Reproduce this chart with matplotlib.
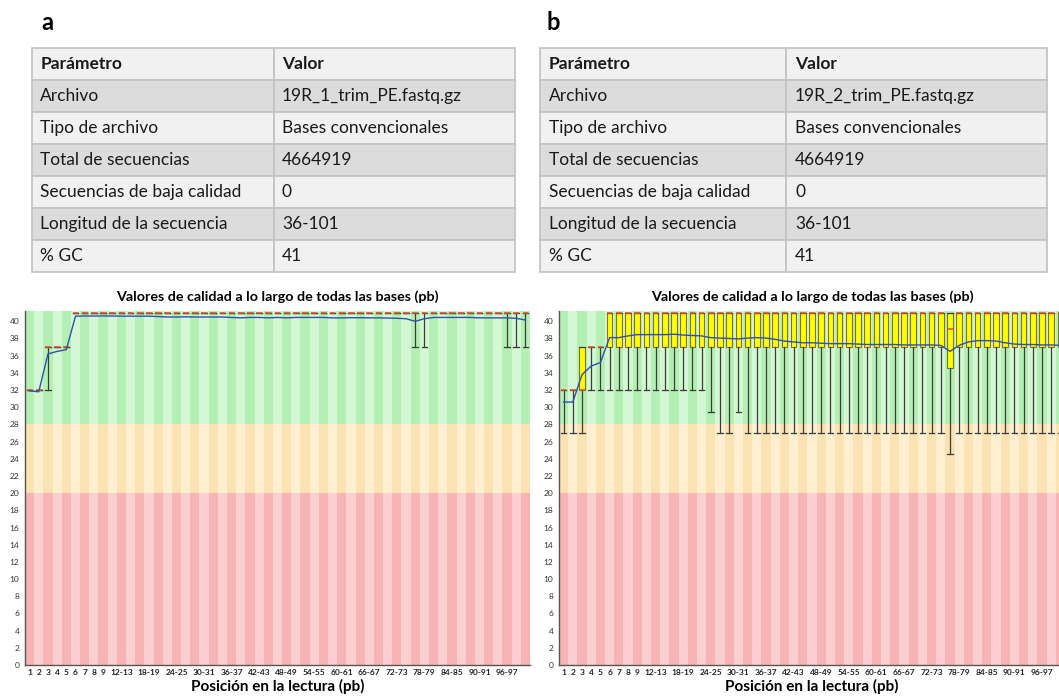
import numpy as np
import matplotlib
matplotlib.use("Agg")
import matplotlib.pyplot as plt

plt.rcParams['font.family'] = ['Lato', 'DejaVu Sans']

# ---- table data ----
table_header = ['Parámetro', 'Valor']
table_params = ['Archivo', 'Tipo de archivo', 'Total de secuencias',
                'Secuencias de baja calidad', 'Longitud de la secuencia', '% GC']
values_a = ['19R_1_trim_PE.fastq.gz', 'Bases convencionales', '4664919', '0', '36-101', '41']
values_b = ['19R_2_trim_PE.fastq.gz', 'Bases convencionales', '4664919', '0', '36-101', '41']

# ---- per-base quality bins ----
bin_labels = [str(i) for i in range(1, 10)] + [f'{s}-{s + 1}' for s in range(10, 101, 2)]
shown_ticks = ['1', '2', '3', '4', '5', '6', '7', '8', '9', '12-13', '18-19', '24-25',
               '30-31', '36-37', '42-43', '48-49', '54-55', '60-61', '66-67', '72-73',
               '78-79', '84-85', '90-91', '96-97']

# panel a (read 1)
med_a = [32, 32, 37, 37, 37, 41, 41, 41, 41, 41, 41, 41, 41, 41, 41, 41, 41, 41, 41,
         41, 41, 41, 41, 41, 41, 41, 41, 41, 41, 41, 41, 41, 41, 41, 41, 41, 41, 41,
         41, 41, 41, 41, 41, 41, 41, 41, 41, 41, 41, 41, 41, 41, 41, 41, 41]
q1_a = med_a
q3_a = med_a
low_a = [32, 32, 32, 37, 37, 41, 41, 41, 41, 41, 41, 41, 41, 41, 41, 41, 41, 41, 41,
         41, 41, 41, 41, 41, 41, 41, 41, 41, 41, 41, 41, 41, 41, 41, 41, 41, 41, 41,
         41, 41, 41, 41, 37, 37, 41, 41, 41, 41, 41, 41, 41, 41, 37, 37, 37]
high_a = med_a
mean_a = [31.9, 31.8, 36.2, 36.5, 36.7, 40.6, 40.62, 40.62, 40.62, 40.62, 40.6, 40.6,
          40.6, 40.6, 40.55, 40.5, 40.5, 40.52, 40.5, 40.5, 40.5, 40.5, 40.45, 40.4,
          40.45, 40.45, 40.4, 40.45, 40.4, 40.45, 40.45, 40.45, 40.45, 40.4, 40.4,
          40.42, 40.42, 40.4, 40.4, 40.38, 40.35, 40.3, 40.0, 40.3, 40.45, 40.45,
          40.45, 40.45, 40.45, 40.4, 40.4, 40.4, 40.4, 40.35, 40.15]

# panel b (read 2)
med_b = [32, 32, 32, 37, 37, 41, 41, 41, 41, 41, 41, 41, 41, 41, 41, 41, 41, 41, 41,
         41, 41, 41, 41, 41, 41, 41, 41, 41, 41, 41, 41, 41, 41, 41, 41, 41, 41, 41,
         41, 41, 41, 41, 39.1, 41, 41, 41, 41, 41, 41, 41, 41, 41, 41, 41, 41]
q1_b = [32, 32, 32, 37, 37, 37, 37, 37, 37, 37, 37, 37, 37, 37, 37, 37, 37, 37, 37,
        37, 37, 37, 37, 37, 37, 37, 37, 37, 37, 37, 37, 37, 37, 37, 37, 37, 37, 37,
        37, 37, 37, 37, 34.6, 37, 37, 37, 37, 37, 37, 37, 37, 37, 37, 37, 37]
q3_b = [32, 32, 37, 37, 37, 41, 41, 41, 41, 41, 41, 41, 41, 41, 41, 41, 41, 41, 41,
        41, 41, 41, 41, 41, 41, 41, 41, 41, 41, 41, 41, 41, 41, 41, 41, 41, 41, 41,
        41, 41, 41, 41, 41, 41, 41, 41, 41, 41, 41, 41, 41, 41, 41, 41, 41]
low_b = [27, 27, 27, 32, 32, 32, 32, 32, 32, 32, 32, 32, 32, 32, 32, 32, 29.5, 27, 27,
         29.5, 27, 27, 27, 27, 27, 27, 27, 27, 27, 27, 27, 27, 27, 27, 27, 27, 27, 27,
         27, 27, 27, 27, 24.6, 27, 27, 27, 27, 27, 27, 27, 27, 27, 27, 27, 27]
high_b = q3_b
mean_b = [30.6, 30.6, 33.8, 34.8, 35.2, 38.1, 38.1, 38.3, 38.45, 38.45, 38.45, 38.45,
          38.5, 38.4, 38.35, 38.3, 38.1, 38.05, 38.0, 37.95, 38.05, 38.1, 38.05, 37.9,
          37.7, 37.6, 37.5, 37.5, 37.45, 37.4, 37.4, 37.4, 37.35, 37.3, 37.3, 37.3,
          37.3, 37.25, 37.25, 37.25, 37.25, 37.2, 36.5, 37.2, 37.6, 37.75, 37.75, 37.7,
          37.5, 37.35, 37.3, 37.3, 37.25, 37.25, 37.2]

fig = plt.figure(figsize=(10.59, 6.96), dpi=100)
W, H = 1059.0, 696.0


def draw_table(rect, values, split):
    ax = fig.add_axes(rect)
    ax.axis('off')
    rows = [table_header] + [[p, v] for p, v in zip(table_params, values)]
    colours = []
    for i in range(len(rows)):
        c = '#dcdcdc' if i % 2 == 1 else '#f1f1f1'
        colours.append([c, c])
    tab = ax.table(cellText=rows, cellColours=colours, colWidths=[split, 1 - split],
                   cellLoc='left', bbox=[0, 0, 1, 1])
    tab.auto_set_font_size(False)
    tab.set_fontsize(12.5)
    for (r, c), cell in tab.get_celld().items():
        cell.set_edgecolor('#c2c2c2')
        cell.set_linewidth(1.2)
        cell.PAD = 0.035
        cell.get_text().set_color('#1a1a1a')
        if r == 0:
            cell.get_text().set_fontweight('bold')


def draw_quality(rect, med, q1, q3, low, high, mean):
    ax = fig.add_axes(rect)
    n = len(bin_labels)
    pos = np.arange(n)
    ymax = 41.2
    # striped background bands (good / reasonable / poor)
    bands = [(28, ymax, '#b4f0b4', '#d4f8d4'),
             (20, 28, '#fae2b2', '#fdefcf'),
             (0, 20, '#f8b4b4', '#fbcfcf')]
    for lo, hi, dark, light in bands:
        cols = [dark if i % 2 == 0 else light for i in pos]
        ax.bar(pos, hi - lo, bottom=lo, width=1.0, color=cols, linewidth=0, zorder=0)
    stats = []
    for i in pos:
        stats.append(dict(med=med[i], q1=q1[i], q3=q3[i], whislo=low[i], whishi=high[i]))
    ax.bxp(stats, positions=pos, widths=0.62, patch_artist=True, showfliers=False,
           capwidths=0.6,
           boxprops=dict(facecolor='#ffff00', edgecolor='#8a7020', linewidth=0.8),
           whiskerprops=dict(color='#3c3c3c', linewidth=0.9),
           capprops=dict(color='#3c3c3c', linewidth=0.9),
           medianprops=dict(color='#e0502a', linewidth=1.1),
           manage_ticks=False)
    ax.plot(pos, mean, color='#3050b0', linewidth=1.0, zorder=5)
    ax.set_xlim(-0.5, n - 0.5)
    ax.set_ylim(0, ymax)
    ax.set_yticks(np.arange(0, 41, 2))
    ax.tick_params(axis='y', length=0, pad=4, labelsize=6, labelcolor='#333333')
    ticks = [bin_labels.index(t) for t in shown_ticks]
    ax.set_xticks(ticks)
    ax.set_xticklabels(shown_ticks, fontweight='bold')
    ax.tick_params(axis='x', length=0, pad=3, labelsize=6, labelcolor='#222222')
    for s in ['top', 'right']:
        ax.spines[s].set_visible(False)
    for s in ['left', 'bottom']:
        ax.spines[s].set_color('#555555')
        ax.spines[s].set_linewidth(1.0)
    ax.set_title('Valores de calidad a lo largo de todas las bases (pb)',
                 fontsize=10.3, fontweight='bold', pad=7)
    ax.set_xlabel('Posición en la lectura (pb)', fontsize=11, fontweight='bold', labelpad=2)
    return ax


# panel letters
fig.text(47 / W, 1 - 22 / H, 'a', fontsize=17, fontweight='bold', ha='center', va='center')
fig.text(553 / W, 1 - 22 / H, 'b', fontsize=17, fontweight='bold', ha='center', va='center')

# tables
draw_table([32 / W, 1 - 272 / H, 483 / W, 224 / H], values_a, 0.5)
draw_table([540 / W, 1 - 272 / H, 507 / W, 224 / H], values_b, 0.485)

# quality plots
draw_quality([25 / W, 1 - 665 / H, 505 / W, 354 / H], med_a, q1_a, q3_a, low_a, high_a, mean_a)
draw_quality([559 / W, 1 - 665 / H, 506 / W, 354 / H], med_b, q1_b, q3_b, low_b, high_b, mean_b)

fig.savefig('out.png', dpi=100)
